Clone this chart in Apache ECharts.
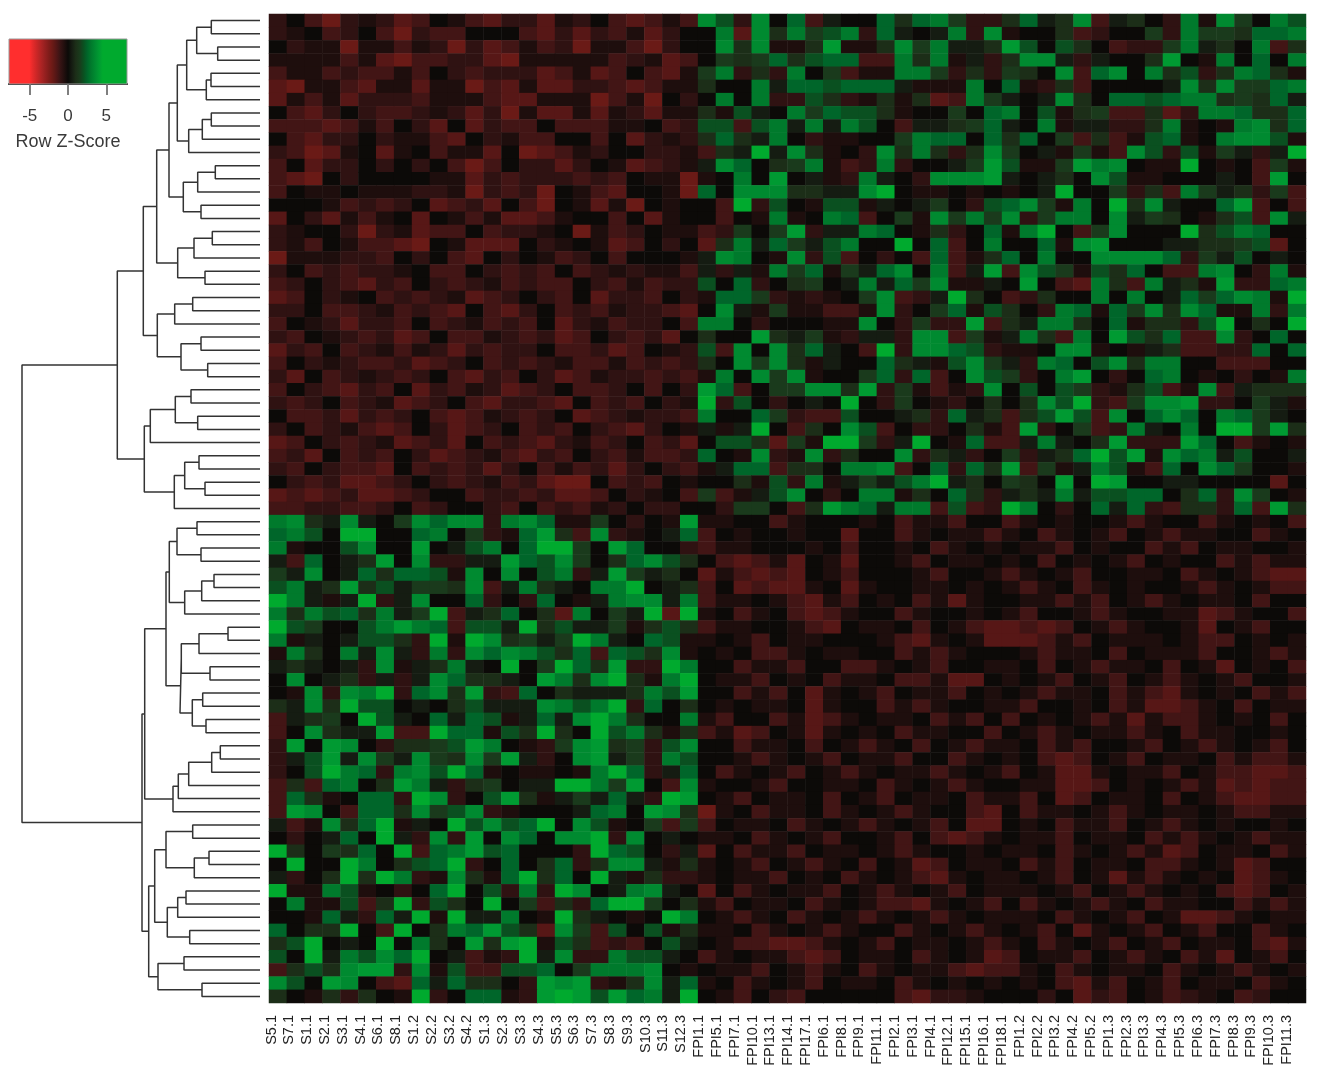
<!DOCTYPE html>
<html><head><meta charset="utf-8">
<style>html,body{margin:0;padding:0;background:#fff}#c{width:1318px;height:1080px;filter:blur(0.5px)}</style>
<script src="https://cdn.jsdelivr.net/npm/echarts@6/dist/echarts.min.js"></script>
</head><body><div id="c"></div>
<script>
const colLabels = ["S5.1","S7.1","S1.1","S2.1","S3.1","S4.1","S6.1","S8.1","S1.2","S2.2","S3.2","S4.2","S1.3","S2.3","S3.3","S4.3","S5.3","S6.3","S7.3","S8.3","S9.3","S10.3","S11.3","S12.3","FPI1.1","FPI5.1","FPI7.1","FPI10.1","FPI13.1","FPI14.1","FPI17.1","FPI6.1","FPI8.1","FPI9.1","FPI11.1","FPI2.1","FPI3.1","FPI4.1","FPI12.1","FPI15.1","FPI16.1","FPI18.1","FPI1.2","FPI2.2","FPI3.2","FPI4.2","FPI5.2","FPI1.3","FPI2.3","FPI3.3","FPI4.3","FPI5.3","FPI6.3","FPI7.3","FPI8.3","FPI9.3","FPI10.3","FPI11.3"];
// cell readings, one string per row: digits 0-9 = z 0..4.5 (green side), a-e = z -0.4..-2 (red side)
const levelZ = {0:0,1:.5,2:1,3:1.5,4:2,5:2.5,6:3,7:3.5,8:4,9:4.5,a:-.4,b:-.8,c:-1.2,d:-1.6,e:-2};
const upperRows = [
"b0cebabdc0acdbbdab0cdcac 74b705c10052563bb 25127c120b6a73064",
"ba0cb0cebcc000cdbdbcadb0 06d726346b51016b7 a002cb003b6332556",
"0baaeaacabebdcacbeaaceb0 0727aa28aa2736112 840420cbb361206c2",
"aaaacadeccbbdeaaaaacbadc 032352455cc626a1b 2771b100280a60506",
"caacbccac0bcbbbdcadc0cda 36b2b603caa663b2b 3207c570624b2652a",
"deaacdaadaaecdaddbbcdcaa 200615545551aaa60 5ab2c000017273356",
"dacadbbbcaaacddaaaecae0b 0606bb42ba2a2dc63 10172055456623251",
"0cdb0bccbabdbeaddadabdaa 2a410635442a00305 604a23cc2db665225",
"cccdcac0bd0dbcc0cccaa0cb 44c46161640c11235 106a11bb26a0a6725",
"0cdbb0baacd0bacc00c0dbab 252160baa00365505 2503c2ca45a06774a",
"bceda0da0caad0edcab00bba c219172a0b7262b27 301a3ac74b4a31b19",
"c0dbb0b0b0cec0bbdb0adcba 1750236acb6b00138 4aa38670aa90a0c3a",
"cde0b0000aadbcbbbcbc0aae a060801ab610b7778 1012074aa00010c80",
"c0aa0aaabbaebcbe0acd00ae 507772211790aa0a0 a019003b2c6312b3c",
"000acbcb0dcbd0ce0adae0a0 0c9b40a44a10130b4 573a6092710058c0c",
"d0bdaca0d0acaddca00c0da0 0c0a6a065c03a7363 7b366071320a24c71",
"ba00bebadcc0cbba0eacb0aa cb3038b11650a2b05 a690c370009246500",
"bac0accde0addd0ba0adc0b0 d2615314600905c06 005a78000112234d0",
"eaaabbc0b0cd0b0acb0c000a 1760a7b4c0b0c5ca2 5060077775b314010",
"b0cbcbba0cc0bcbc0cbabaac 1b1a635a315706c18 c743a4250cc670b6a",
"cb0bcdbc0bcbacbcc0bcacbb 405b0230161537aa1 080cd62c612a8bb56",
"dc0ba0cbcbadcb0bc0dbbc0b a553baba037cb1920 cb2006060153576a9",
"bb0ccbacbcd0cdb0cbcabbcd 071a3aacca7b035a4 20b65a537275aa6b6",
"c0abdbbc0cbacbc0dbacbb0c 660b000aa70b3bb8c 2166205a22b490209",
"bc0abcbdc0ccabcbdc0bcbd0 2008213ab11b77c3a 162c608425cc7b050",
"dbc0cbacabdbcbb0ccbdc0ab 4c7072510c9b7754b aa077a0a12ccbb505",
"c0babccbdcb0cbcbaccacbcb 207372a100521a473 1b6504726600ccc00",
"bd0cbabcb0cdbc0bdcabbcbc a60737a0035b5c074 3b0680b0560a0b0a6",
"c0bcdbc0dbcabdcb0ccb0c0b 85c0337728b3acab7 04043ba24ca7c1222",
"bcb0cbadcb0cdbbcd0cbc0ba 9b40b01090b30ab02 02749bc3778bb031a",
"0ccbdbcb0cdcabcb0dcbabbc 60053bcc40012b512 c2484c70575065310",
"b0cbacdc0bdcb0cbc0bcdb0a 1a190c2074c0bb02a c8b03cb6106099382",
"dc0bcbadcbd0cbcdbacb0cbd 0442d3a993b190a5c c161028bbb850ca0a",
"cbd0cbc0bdcbacdbc0bcaccb 50a7ba7b2007b21b0 3b125948a75614001",
"bc0bccd0cbcbdb0cacbdb0bc a155c220667c05b52 8c3a164ac5075300a",
"0bcbddcb0bcbacbdee0cbc0a 002a4b6a131469120 320809800110000d0",
"dcdcbddcb00cbbcbddc0ba0c 3ca1470b066a2052b 121614455025b730a",
"ccbbccb0cb00bc0cbcab0bb0 0b330c2865166c4cb 960b0515bc22b5c82"
];
const lowerRows = [
"672171037577b675aa30b0a8 aa00ca000a0caac00 ca0a00aca00ca0a0c",
"564099005603ba582c7ba015 c0a00a00d00ca0aac a0ca0ac0acaa00ca0",
"6a004700801460599308500b caa000a0c00a0ca0a 0aac0a00cac0aa00a",
"1c5012807bb1185473025742 0cdcad0ad00ac0aa0 a0c0a0ac0a00cacaa",
"3170152554a707046b183120 dacdcd0ac000ac00a ca0ac00aa0ca0acdd",
"461282413327c16210669012 c0dcdda0da00aa0a0 aca0ca0a00aca0acc",
"961a19b17005b0b50a167716 caa0acdac0a0cada0 0aacac0aca0aa0c00",
"6264526139c12502d60319d9 a0ca0cdca00ca00a0 ac00aca00aadca00c",
"9430046865c441924113a242 caa00acd0aa0c0acd dcdc0aca00ad0ac00",
"6a101442b9a972313961054a a0ac0aa000acda0ad ddcac0aaa0acc0a0a",
"a6206171b6b7576425c5427a 0a0cca0aa00caca00 0acaa0c0aaac00aca",
"12101b7a126109039528bb96 00caac00cca0ac00a a0c0acaa0c0ad0a0c",
"07012b1b1752210862792a69 0aac0a0caa0ccadd0 a0ac0ac0aca0ac00a",
"0a7b769b5728bc5021112648 00cac0da0ac0aac0a 0acaa0cacda0a0cac",
"21729440102411176469b502 0a0aa0da00caca00a ac00a0caddca0c0aa",
"c123094105154a1517962006 ac00cadca0aa0cac0 c0a0acadacca0a0c0",
"c072118cc955a429209462a2 cadc0ada0a0caa00c 0aca0aaca0caa00a0",
"b80870b2234860ab37823b47 00caa0c0aca0c0aca a0cac00ac0aca0ac0",
"b14817317327381b07813b64 00aca0ac0aac00ca0 a0cdc0ac0aa0cacca",
"b04965b67495a0aa0a695b15 0ca0ac0aca0aaca0a c0adda0aac0accddc",
"c2c5602861b23011996380c7 a00ac00aa0ca0aca0 0aaddc0a0acadcdcc",
"c52a055b97b0482a13151b98 0ac0aa0c0ac0aa0ca ac0dc0aa0c0acddcc",
"c870c5527347ba0001560872 ea0caa0ca0aca00cd 0caa0aca0aa0accaa",
"1ca7259a10947459074a03c3 c0aa0ca0aca0ac0dd 0a0caac0aca0a00a0",
"0b015091b7b80750779b7010 aa0ca0ac00ac0cdca 0aac0aa0caca0acaa",
"92032509c56845000b9540b1 d0caac0aa0aca00a0 aa0ca0acadc0aa0ca",
"09009602459b05025b2771a2 a0ac0aca0c0adc0aa 0cac0aa0cca0adc00",
"1b029296ba72a5925091a2bb a0aac0a0ca0acda0a a0ac0adaca0a0dca0",
"9aa64a0b05904b6b97016710 d0ca0aac0aca0ac0a aa0ac0aca0a0cdc0a",
"06aa4c29b420903c2b599302 ac0aa0ca0accda0ac 0ca0aca0caa00caca",
"00a51b519a91160a9210a096 0aca0ca0aca0aca0a aa0ca0ac0addca0aa",
"502290c90265842d73c404a2 aa0ca0aca00ca0aca 0ac0da0ac0ac00ca0",
"249010906208289a42cbc041 0accddca0ac0aa0ac a0ca0ac0ac0aa0cda",
"40916475901cab917bb64410 ca0aacdc0aa0ca0ad c0aac0aca0cad0ac0",
"c242788b7a4cc4450366670a 0aac0aca0ca0aacdc ca0ca0aa0ca0aca0a",
"740870cd515220b878ba2715 a0ca0ac0aa0ca0a0a 0a0cdac0ac0aa0ca0",
"20a2b20a9b055ab898485619 0ac0bc00000cdbba0 00b0dbc0acba0cb00"
];
// dendrogram merges: [height, child, child]; 0 = a leaf (next row)
const topTree = [142.7,
 [116.7,
  [103.3,
   [91,
    [82.7,
     [73.3,[63.3,[48.7,0,0],[42.3,0,0]],[53.7,[49,0,0],0]],
     [71.3,[57.7,[48.7,0,0],0],0]],
    [76.7,[62.3,[44.7,0,0],0],[59,0,0]]],
   [82.3,[66,[47.7,0,0],0],[55,0,0]]],
  [102.7,[85.3,[67.3,0,0],0],[79,[59,0,0],[52.3,0,0]]]],
 [115.7,
  [109.7,[84.7,[69,0,0],[62.3,0,0]],0],
  [85.7,[75.3,[61,0,0],[55,0,0]],0]]];
const bottomTree = [118,
 [115.3,
  [94,
   [90.7,[83,[63,0,0],[59,0,0]],[75.3,[58.3,[46,0,0],0],0]],
   [80,[78.7,[61,[32,0,0],0],[50,0,0]],[67.7,[57.3,0,0],[54,0,0]]]],
  [87,[81.7,[71.3,[48.3,[39.7,0,0],0],0],0],0]],
 [111.3,
  [105.3,
   [94,[67.3,0,0],[65.7,[51,0,0],0]],
   [92.7,[82.3,[74,0,0],0],[70.3,0,0]]],
  [102,[76,0,0],[58,0,0]]]];
const rootHeight = 238;
const keyRange = [-7.7, 7.7];
const keyTicks = [-5, 0, 5];
// colour scale, evenly spaced over z = -5 .. 5
const scaleColors = ["#FF2E2E","#E22A2A","#C82626","#AE2424","#962020","#801C1A","#6A1A16","#521616","#371414","#220F0E","#0C0A08","#151C12","#1C2E18","#1A3A1C","#0A5020","#00662A","#007A2C","#008A30","#009A32","#00AA2E","#00AA2E"];

const rowStrings = upperRows.concat(lowerRows).map(s => s.replace(/ /g, ''));
const rowIds = rowStrings.map((_, i) => String(i));
const cells = [];
rowStrings.forEach((s, r) => { for (let c = 0; c < s.length; c++) cells.push([c, r, levelZ[s[c]]]); });

let nextLeaf = 0;
const dendroPts = [];
function walk(n) {
  if (n === 0) { nextLeaf++; return { h: 0, y: nextLeaf - 0.5 }; }
  const a = walk(n[1]), b = walk(n[2]);
  dendroPts.push([a.h, a.y], [n[0], a.y], [n[0], b.y], [b.h, b.y], ['-', '-']);
  return { h: n[0], y: (a.y + b.y) / 2 };
}
walk([rootHeight, topTree, bottomTree]);

const keyStops = [];
scaleColors.forEach((col, i) => {
  const z = -5 + i * 0.5;
  keyStops.push({ offset: (z - keyRange[0]) / (keyRange[1] - keyRange[0]), color: col });
});
keyStops.unshift({ offset: 0, color: scaleColors[0] });
keyStops.push({ offset: 1, color: scaleColors[scaleColors.length - 1] });

const chart = echarts.init(document.getElementById('c'), null, { renderer: 'canvas' });
chart.setOption({
  animation: false,
  backgroundColor: '#fff',
  textStyle: { fontFamily: 'Liberation Sans' },
  grid: [
    { left: 269, top: 14, width: 1037, height: 989 },
    { left: 22, top: 14, width: 238, height: 989 },
    { left: 9, top: 39, width: 118, height: 45 },
    { left: 262.6, top: 1003, width: 1033.3, height: 1 }
  ],
  xAxis: [
    { gridIndex: 0, type: 'category', data: colLabels, axisLine: { show: false }, axisTick: { show: false }, axisLabel: { show: false }, splitLine: { show: false } },
    { gridIndex: 1, type: 'value', inverse: true, min: 0, max: rootHeight, show: false },
    { gridIndex: 2, type: 'value', min: keyRange[0], max: keyRange[1], splitLine: { show: false },
      axisLine: { show: true, onZero: false, lineStyle: { color: '#111', width: 2 } },
      axisTick: { show: true, length: 11, customValues: keyTicks, lineStyle: { color: '#555', width: 1.5 } },
      axisLabel: { show: true, customValues: keyTicks, margin: 24, fontSize: 17, color: '#3a3a3a', showMinLabel: true, showMaxLabel: true },
      name: 'Row Z-Score', nameLocation: 'middle', nameGap: 49, nameTextStyle: { fontSize: 18, color: '#3a3a3a' } },
    { gridIndex: 3, type: 'category', data: colLabels, axisLine: { show: false }, axisTick: { show: false }, splitLine: { show: false },
      axisLabel: { rotate: 90, interval: 0, margin: 11, fontSize: 14.5, color: '#222' } }
  ],
  yAxis: [
    { gridIndex: 0, type: 'category', data: rowIds, inverse: true, show: false },
    { gridIndex: 1, type: 'value', inverse: true, min: 0, max: rowIds.length, show: false },
    { gridIndex: 2, type: 'value', min: 0, max: 1, show: false },
    { gridIndex: 3, type: 'value', min: 0, max: 1, show: false }
  ],
  visualMap: { show: false, type: 'continuous', seriesIndex: 0, dimension: 2, min: -5, max: 5, inRange: { color: scaleColors } },
  series: [
    { type: 'heatmap', xAxisIndex: 0, yAxisIndex: 0, data: cells, progressive: 0, itemStyle: { borderWidth: 0 }, emphasis: { disabled: true } },
    { type: 'line', xAxisIndex: 1, yAxisIndex: 1, data: dendroPts, showSymbol: false, symbol: 'none', connectNulls: false, clip: false,
      lineStyle: { color: '#333', width: 1.5 }, silent: true },
    { type: 'custom', xAxisIndex: 2, yAxisIndex: 2, data: [[keyRange[0], keyRange[1]]], silent: true,
      renderItem: (params, api) => {
        const a = api.coord([api.value(0), 1]), b = api.coord([api.value(1), 0]);
        return { type: 'rect', shape: { x: a[0], y: a[1], width: b[0] - a[0], height: b[1] - a[1] },
          style: { fill: new echarts.graphic.LinearGradient(0, 0, 1, 0, keyStops), stroke: '#999', lineWidth: 1 } };
      } }
  ]
});
</script></body></html>
